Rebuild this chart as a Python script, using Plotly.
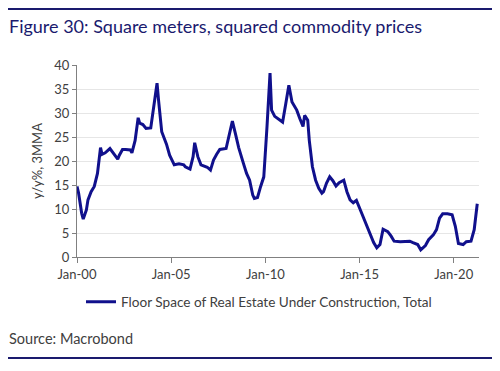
import plotly.graph_objects as go

dates = ["2000-01","2000-02","2000-04","2000-05","2000-07","2000-08","2000-10","2000-12",
         "2001-02","2001-04","2001-05","2001-07","2001-10","2001-12",
         "2002-03","2002-04","2002-06","2002-08","2002-11","2002-12",
         "2003-02","2003-04","2003-05","2003-07","2003-09","2003-12",
         "2004-02","2004-04","2004-05","2004-07","2004-10","2004-12",
         "2005-03","2005-06","2005-09","2005-10",
         "2006-01","2006-03","2006-04","2006-06","2006-08","2006-12",
         "2007-02","2007-04","2007-06","2007-08","2007-12",
         "2008-02","2008-04","2008-06","2008-08","2008-11",
         "2009-01","2009-03","2009-05","2009-06","2009-08","2009-10","2009-12",
         "2010-02","2010-04","2010-05","2010-07","2010-10","2010-12",
         "2011-02","2011-04","2011-06","2011-09","2011-11",
         "2012-01","2012-02","2012-04","2012-05","2012-07","2012-09","2012-11",
         "2013-01","2013-02","2013-04","2013-06","2013-08","2013-10","2013-12",
         "2014-03","2014-05","2014-07","2014-09","2014-11",
         "2015-01","2015-04","2015-07","2015-10","2015-12",
         "2016-02","2016-04","2016-07","2016-09","2016-11",
         "2017-03","2017-06","2017-09","2017-11",
         "2018-02","2018-04","2018-07","2018-09","2018-12",
         "2019-02","2019-04","2019-06","2019-09","2019-12",
         "2020-02","2020-04","2020-07","2020-09","2020-12",
         "2021-02","2021-04"]
values = [14.7,13.3,9.1,7.9,9.8,11.9,13.6,14.7,
          17.4,22.8,21.4,21.7,22.6,21.7,
          20.4,21.2,22.4,22.4,22.3,21.7,
          24.3,29.0,27.9,27.6,26.8,26.9,
          32.0,36.2,32.6,26.1,23.5,21.2,
          19.2,19.4,19.2,18.8,
          18.3,20.9,23.8,20.9,19.2,18.7,
          18.1,20.2,21.4,22.4,22.6,
          25.7,28.3,25.6,22.8,19.5,
          17.4,16.0,12.9,12.2,12.4,14.7,16.7,
          27.1,38.3,30.6,29.3,28.6,28.1,
          32.0,35.8,32.3,30.6,28.8,
          27.2,29.5,28.5,24.3,18.8,16.0,14.3,
          13.3,13.6,15.4,16.7,15.9,14.8,15.5,
          16.0,13.6,11.9,11.3,11.8,
          10.2,7.7,5.3,3.0,1.9,
          2.6,5.8,5.3,4.4,3.3,
          3.2,3.2,3.3,3.0,
          2.6,1.5,2.4,3.6,4.6,
          5.7,8.1,9.0,9.0,8.8,
          6.4,2.8,2.6,3.2,3.3,
          5.7,11.1]

series_name = "Floor Space of Real Estate Under Construction, Total"
title_text = "Figure 30: Square meters, squared commodity prices"
y_title = "y/y%, 3MMA"
source_text = "Source: Macrobond"
y_ticks = [0, 5, 10, 15, 20, 25, 30, 35, 40]

# The page body keeps its default 8px margin, so the figure is offset by 8px.
OFF = 8
W, H = 500 - OFF, 371 - OFF
ml, mr, mt, mb = 77 - OFF, 21, 65 - OFF, 114
pw, ph = W - ml - mr, H - mt - mb

def px2x(px):  # window pixel -> paper x
    return (px - OFF - ml) / pw

def py2y(py):  # window pixel -> paper y
    return (H - mb - (py - OFF)) / ph

navy = "#1a1a6e"
line_col = "#10108c"
font = "Lato"

fig = go.Figure()
fig.add_trace(go.Scatter(
    x=[d + "-01" for d in dates], y=values, mode="lines", name=series_name,
    line=dict(color=line_col, width=3), showlegend=True))

fig.update_layout(
    width=W, height=H,
    margin=dict(l=ml, r=mr, t=mt, b=mb, autoexpand=False),
    paper_bgcolor="white", plot_bgcolor="white",
    font=dict(family=font, size=12, color="#404040"),
    showlegend=True,
    legend=dict(orientation="h", x=px2x(81), xanchor="left", y=py2y(302), yanchor="middle",
                font=dict(size=13.6, color="#404040"), bgcolor="rgba(0,0,0,0)",
                itemwidth=30),
    xaxis=dict(type="date", range=["2000-01-01", "2021-05-05"], automargin=False,
               tick0="2000-01-01", dtick="M60", tickformat="%b-%y",
               showgrid=False, showline=True, linecolor="#808080", linewidth=1,
               ticks="outside", ticklen=5, tickcolor="#808080",
               tickfont=dict(size=13, color="#404040")),
    yaxis=dict(range=[0, 40], tickvals=y_ticks, showgrid=True, gridcolor="#e6e6e6",
               showline=True, linecolor="#808080", linewidth=1, automargin=False,
               ticks="outside", ticklen=4, tickcolor="#808080",
               tickfont=dict(size=13, color="#404040"),
               title=dict(text=y_title, font=dict(size=13, color="#404040"), standoff=8),
               zeroline=False),
    shapes=[
        dict(type="line", xref="paper", yref="paper", x0=px2x(8), x1=px2x(493),
             y0=py2y(9), y1=py2y(9), line=dict(color=navy, width=2)),
        dict(type="line", xref="paper", yref="paper", x0=px2x(8), x1=px2x(493),
             y0=py2y(358), y1=py2y(358), line=dict(color=navy, width=2)),
    ],
    annotations=[
        dict(text=title_text, xref="paper", yref="paper", x=px2x(7), y=py2y(26),
             xanchor="left", yanchor="middle", showarrow=False,
             font=dict(family=font, size=18, color=navy)),
        dict(text=source_text, xref="paper", yref="paper", x=px2x(7), y=py2y(338),
             xanchor="left", yanchor="middle", showarrow=False,
             font=dict(family=font, size=14.5, color="#404040")),
    ],
)

fig.write_html("out.html", config={"displayModeBar": False})
